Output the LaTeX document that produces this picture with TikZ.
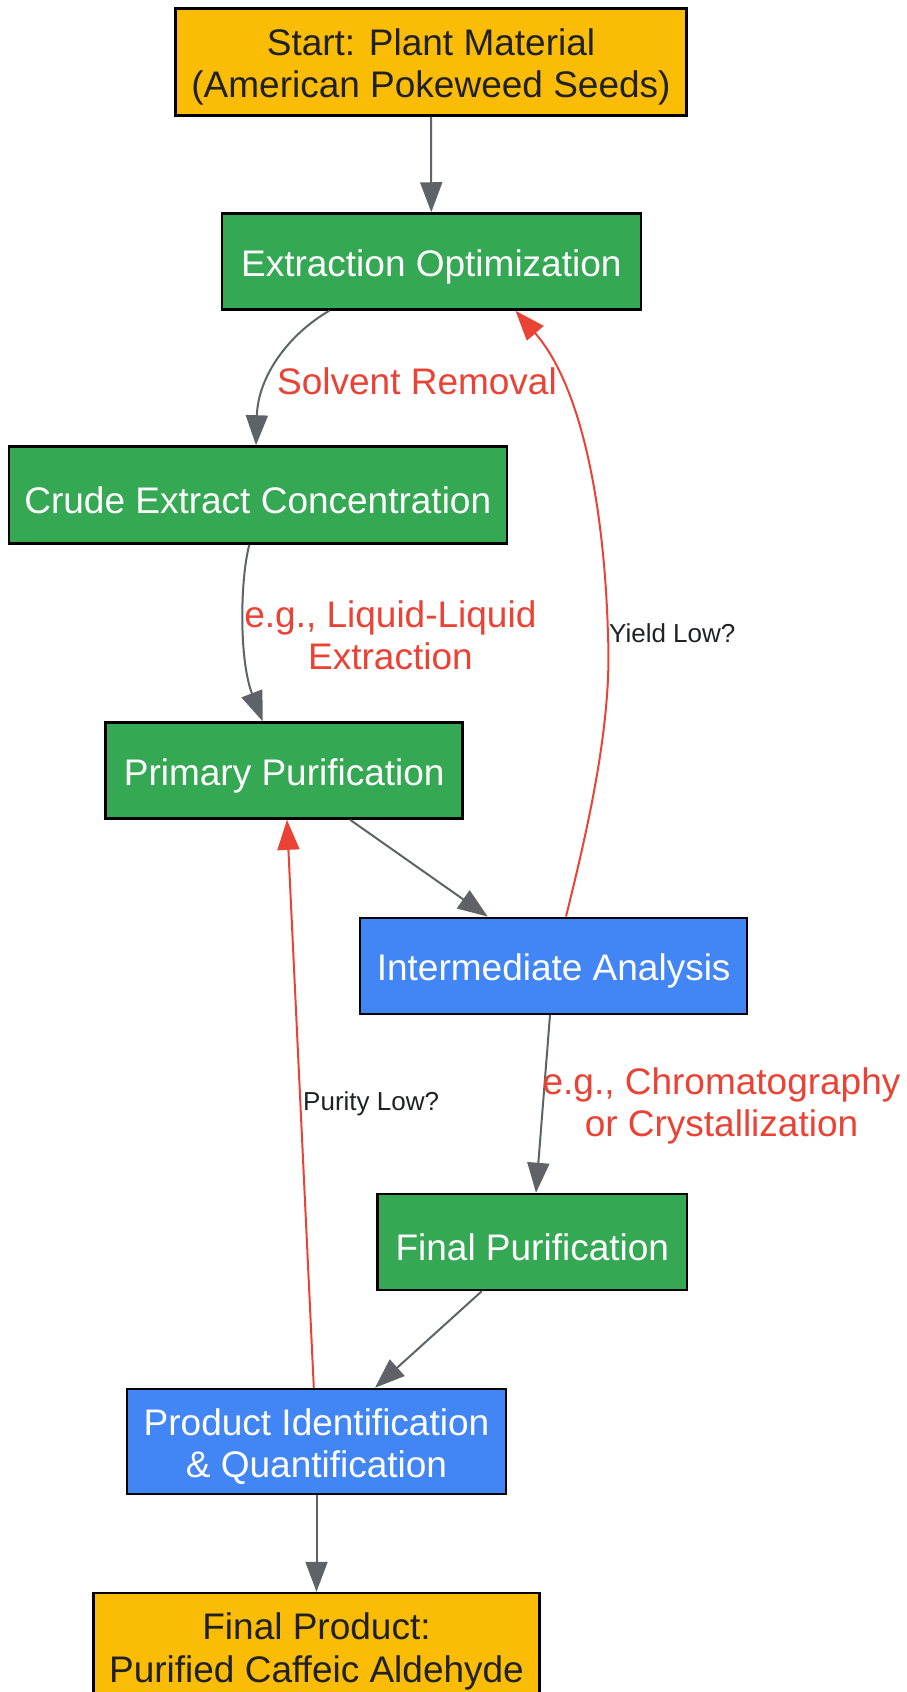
\documentclass[tikz,border=0pt]{standalone}
\usepackage{fontspec}
\setmainfont{Liberation Sans}
\usetikzlibrary{arrows.meta}
\definecolor{cyellow}{HTML}{FBBC05}
\definecolor{cgreen}{HTML}{34A853}
\definecolor{cblue}{HTML}{4285F4}
\definecolor{cred}{HTML}{EA4335}
\definecolor{cgray}{HTML}{5F6368}
\definecolor{cdark}{HTML}{202124}
\newcommand{\dn}[1]{\raisebox{-5pt}[\height][\depth]{#1}}
\begin{document}
\begin{tikzpicture}[x=1pt,y=-1pt,
  box/.style={draw=black, line width=2.5pt, rectangle, inner sep=0pt, align=center, font=\fontsize{37}{42.5}\selectfont},
  startbox/.style={box, fill=cyellow, text=cdark},
  stepbox/.style={box, fill=cgreen, text=white},
  anbox/.style={box, fill=cblue, text=white},
  flow/.style={draw=cgray, line width=2pt, -{Triangle[length=30pt,width=22pt]}},
  back/.style={draw=cred, line width=2pt, -{Triangle[length=30pt,width=22pt]}},
  elabel/.style={text=cred, align=center, font=\fontsize{37}{42.5}\selectfont, inner sep=0pt},
  slabel/.style={text=cdark, font=\fontsize{26}{30}\selectfont, inner sep=0pt}]
\clip (0,0) rectangle (907,1692);
\fill[white] (0,0) rectangle (907,1692);

\node[startbox, minimum width=511pt, minimum height=107pt] (start) at (431,62) {\dn{Start: Plant Material}\\\dn{(American Pokeweed Seeds)}};
\node[stepbox, minimum width=419pt, minimum height=96pt] (extr) at (431.3,261.5) {\dn{Extraction Optimization}};
\node[stepbox, minimum width=498pt, minimum height=97pt] (crude) at (257.8,495) {\dn{Crude Extract Concentration}};
\node[stepbox, minimum width=357pt, minimum height=96pt] (prim) at (284.2,770.6) {\dn{Primary Purification}};
\node[anbox, minimum width=387pt, minimum height=96pt] (inter) at (553.7,965.8) {\dn{Intermediate Analysis}};
\node[stepbox, minimum width=309.5pt, minimum height=96pt] (finp) at (532.3,1242) {\dn{Final Purification}};
\node[anbox, minimum width=379pt, minimum height=105pt] (prod) at (316.5,1441.5) {\dn{Product Identification}\\\dn{\& Quantification}};
\node[startbox, minimum width=446pt, minimum height=107pt] (final) at (316.5,1646.5) {\dn{Final Product:}\\\dn{Purified Caffeic Aldehyde}};

\draw[flow] (start.south) -- (extr.north);
\draw[flow] ([xshift=-102pt]extr.south) .. controls (289,334) and (258,376) .. ([xshift=-1.8pt]crude.north);
\node[elabel] (l1) at (417,381) {Solvent Removal};
\draw[flow] ([xshift=-8.5pt]crude.south) .. controls (240,580) and (239,660) .. ([xshift=-21.5pt]prim.north);
\node[elabel] (l2) at (390.4,635.2) {e.g., Liquid-Liquid\\Extraction};
\draw[flow] ([xshift=66pt]prim.south) -- ([xshift=-66pt]inter.north);
\draw[flow] ([xshift=-3.7pt]inter.south) -- ([xshift=3.7pt]finp.north);
\node[elabel] (l3) at (721.5,1106) {e.g., Chromatography\\or Crystallization};
\draw[flow] ([xshift=-50.6pt]finp.south) -- ([xshift=58.5pt]prod.north);
\draw[flow] (prod.south) -- (final.north);

\draw[back] ([xshift=12.3pt]inter.north) .. controls (590,820) and (612,720) .. (608,636) .. controls (605,520) and (585,390) .. ([xshift=84.2pt]extr.south);
\node[slabel, anchor=west] (yl) at (609,633) {Yield Low?};
\draw[back] ([xshift=-2.7pt]prod.north) -- ([xshift=2.8pt]prim.south);
\node[slabel, anchor=west] (pl) at (303,1104) {Purity Low?};
\end{tikzpicture}
\end{document}
